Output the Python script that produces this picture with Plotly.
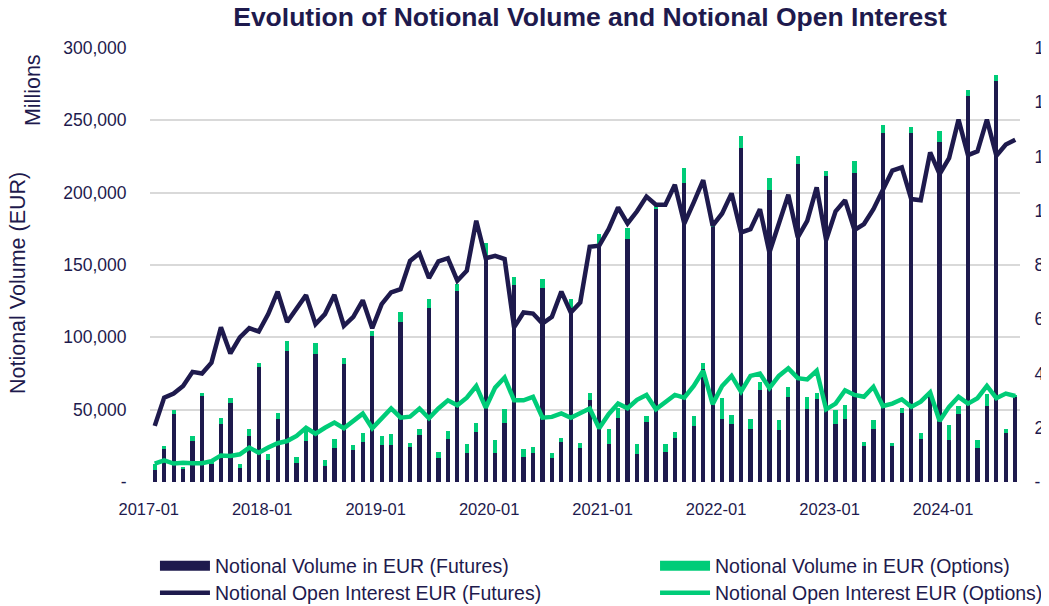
import plotly.graph_objects as go

# ---------------- data (EUR millions) ----------------
months = [f"{y}-{m:02d}" for y in range(2017, 2025) for m in range(1, 13)][:92]

fut_vol = [8500, 22600, 46800, 8800, 28400, 59500, 12700, 40400, 54900, 9900, 31800, 79600,
           15000, 43800, 90600, 13400, 28400, 88300, 11100, 23800, 81900, 21900, 27900, 101000,
           25600, 25600, 110700, 24200, 32500, 120600, 16800, 30000, 131700, 20000, 34800, 154000,
           20000, 41000, 136000, 17500, 20300, 134000, 16800, 27700, 120100, 23800, 56500, 164400,
           26000, 44500, 167900, 19600, 41700, 188600, 21000, 30200, 207000, 38700, 78000, 176000,
           43800, 40400, 230800, 36900, 63400, 201800, 36000, 58800, 219800, 50300, 57200, 211700,
           40400, 43800, 213300, 24900, 36900, 241200, 24900, 48000, 241000, 30000, 60600, 234700,
           29100, 47300, 267000, 23800, 52600, 277400, 34100, 58800]

opt_vol = [4000, 2300, 2800, 1600, 3500, 2300, 800, 3500, 3500, 2800, 5100, 3000,
           4100, 3700, 6900, 3900, 6900, 8100, 3900, 5800, 3500, 3500, 5800, 3500,
           6000, 7800, 6500, 2500, 4400, 6200, 3900, 5300, 5100, 6000, 5800, 11500,
           8800, 9200, 6000, 5500, 3900, 6500, 3000, 3000, 6200, 3500, 5300, 6900,
           10400, 6900, 7400, 6500, 3900, 2500, 5100, 4400, 9900, 6900, 4100, 2000,
           14500, 5800, 8100, 6500, 5800, 8300, 6700, 6900, 5300, 8500, 4000, 3500,
           9200, 9500, 8800, 3000, 6000, 5500, 2300, 3000, 4100, 3700, 1500, 7600,
           10100, 5300, 4200, 5300, 8100, 3900, 2800, 1000]

oi_fut = [20700, 31100, 32600, 35400, 40600, 40000, 44000, 57000, 47400, 53300, 56700, 55500,
          61900, 70200, 59000, 64300, 68900, 58200, 61900, 69000, 57600, 60900, 67000, 56700,
          65600, 69900, 71100, 81500, 84300, 75200, 81300, 82500, 74200, 77900, 96300, 82500,
          83400, 82200, 57000, 62500, 62100, 58400, 60900, 70200, 62500, 66200, 86700, 87100,
          93200, 101200, 95300, 99800, 105200, 102200, 102200, 109600, 95300, 103100, 111300, 94500,
          99000, 106400, 92000, 93200, 100600, 84600, 95700, 105900, 90200, 96300, 108600, 89200,
          99800, 103900, 92900, 95100, 100600, 107600, 114800, 116000, 104300, 103900, 121500, 113500,
          119400, 133600, 120500, 121900, 133600, 120300, 124400, 126200]

oi_opt = [6800, 8000, 6800, 7100, 6900, 6900, 7700, 9800, 9600, 10200, 12700, 10800,
          12700, 14300, 15100, 17000, 20000, 17800, 20000, 21900, 19800, 22500, 25200, 19800,
          23500, 27100, 23700, 24100, 27100, 23500, 27100, 30100, 28300, 31100, 35400, 27400,
          34800, 38500, 30100, 30100, 31400, 23700, 24000, 25300, 23700, 25600, 27100, 19800,
          25000, 28900, 27200, 30300, 32100, 26800, 29300, 32100, 31100, 35400, 41000, 28700,
          35400, 39100, 33300, 39100, 40000, 34600, 39100, 41900, 38300, 37800, 41000, 26800,
          28900, 33800, 32100, 31400, 35100, 28000, 28900, 30500, 27700, 29600, 33000, 22500,
          27700, 31400, 28900, 30900, 35400, 30900, 32600, 31700]

x_ticks = ["2017-01", "2018-01", "2019-01", "2020-01", "2021-01", "2022-01", "2023-01", "2024-01"]
left_vals = [0, 50000, 100000, 150000, 200000, 250000, 300000]
left_text = ["-", "50,000", "100,000", "150,000", "200,000", "250,000", "300,000"]
right_vals = [0, 20000, 40000, 60000, 80000, 100000, 120000, 140000, 160000]
right_text = ["-", "20,000", "40,000", "60,000", "80,000", "100,000", "120,000", "140,000", "160,000"]

NAVY = "#1e1a4d"
GREEN = "#00cc78"
FONT = "Liberation Sans, Arial, sans-serif"

fig = go.Figure()
fig.add_trace(go.Bar(x=months, y=fut_vol, marker=dict(color=NAVY, line=dict(width=0)),
                     name="Notional Volume in EUR (Futures)", showlegend=False))
fig.add_trace(go.Bar(x=months, y=opt_vol, marker=dict(color=GREEN, line=dict(width=0)),
                     name="Notional Volume in EUR (Options)", showlegend=False))
fig.add_trace(go.Scatter(x=months, y=oi_fut, yaxis="y2", mode="lines",
                         line=dict(color=NAVY, width=4.5), name="Notional Open Interest EUR (Futures)",
                         legend="legend3"))
fig.add_trace(go.Scatter(x=months, y=oi_opt, yaxis="y2", mode="lines",
                         line=dict(color=GREEN, width=4.5), name="Notional Open Interest EUR (Options)",
                         legend="legend4"))
# legend-only entries for the bar series (wide rectangle swatches)
fig.add_trace(go.Scatter(x=[None], y=[None], mode="lines", line=dict(color=NAVY, width=10),
                         name="Notional Volume in EUR (Futures)", legend="legend"))
fig.add_trace(go.Scatter(x=[None], y=[None], mode="lines", line=dict(color=GREEN, width=10),
                         name="Notional Volume in EUR (Options)", legend="legend2"))

leg = dict(orientation="v", xanchor="left", yanchor="middle",
           font=dict(family=FONT, size=19.5, color=NAVY), bgcolor="rgba(0,0,0,0)",
           itemwidth=50)
row1, row2 = -0.194, -0.256
col1, col2 = 0.0057, 0.5805

fig.update_layout(
    width=1049, height=606,
    margin=dict(l=142, r=37, t=40, b=132, autoexpand=False),
    plot_bgcolor="white", paper_bgcolor="white",
    barmode="stack", bargap=0.55,
    font=dict(family=FONT, color=NAVY, size=16),
    title=dict(text="<b>Evolution of Notional Volume and Notional Open Interest</b>",
               x=0.5548, xanchor="center", y=0.985, yanchor="middle",
               font=dict(family=FONT, size=26.5, color=NAVY)),
    xaxis=dict(type="category", tickmode="array", tickvals=x_ticks, ticktext=x_ticks,
               ticks="outside", ticklen=12, tickcolor="rgba(0,0,0,0)", showgrid=False,
               showline=False, zeroline=False, automargin=False, ticklabelshift=-6,
               tickfont=dict(family=FONT, size=16.5, color=NAVY)),
    yaxis=dict(range=[0, 300000], tickmode="array", tickvals=left_vals, ticktext=left_text,
               showgrid=True, gridcolor="#d9d9d9", gridwidth=1.5, zeroline=False, showline=False,
               ticks="outside", ticklen=19, tickcolor="rgba(0,0,0,0)", automargin=False,
               tickfont=dict(family=FONT, size=17.5, color=NAVY)),
    yaxis2=dict(range=[0, 160000], overlaying="y", side="right", tickmode="array",
                tickvals=right_vals, ticktext=right_text, showgrid=False, zeroline=False,
                showline=False, ticks="outside", ticklen=10, tickcolor="rgba(0,0,0,0)",
                automargin=False, tickfont=dict(family=FONT, size=17.5, color=NAVY)),
    legend=dict(x=col1, y=row1, **leg),
    legend2=dict(x=col2, y=row1, **leg),
    legend3=dict(x=col1, y=row2, **leg),
    legend4=dict(x=col2, y=row2, **leg),
    annotations=[
        dict(text="Millions", xref="paper", yref="paper", x=-0.1345, y=0.903, textangle=-90,
             showarrow=False, xanchor="center", yanchor="middle",
             font=dict(family=FONT, size=21.5, color=NAVY)),
        dict(text="Notional Volume (EUR)", xref="paper", yref="paper", x=-0.1517, y=0.4585,
             textangle=-90, showarrow=False, xanchor="center", yanchor="middle",
             font=dict(family=FONT, size=21.5, color=NAVY)),
    ],
)

fig.write_html("out.html")
